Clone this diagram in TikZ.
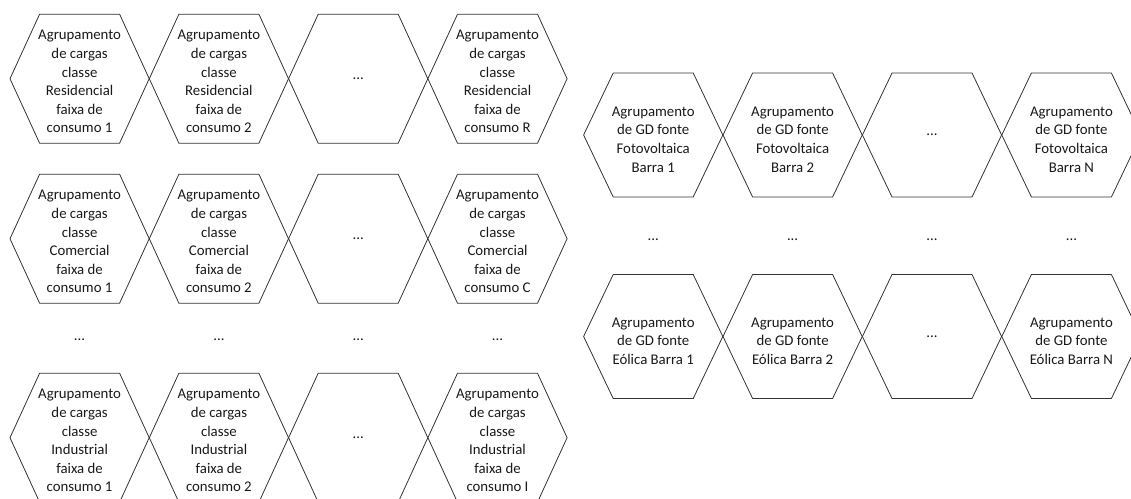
\documentclass[tikz,border=0pt]{standalone}
\usepackage{fontspec}
\setmainfont{Carlito}

% hexagon outline around a named centre point: #1 name, #2 x, #3 y,
% #4 half-height of the hexagon
\newcommand\hexcell[4]{%
  \coordinate (#1) at (#2,#3);
  \draw[hexline] (#1) +(-69.6,0) -- +(-40,-#4) -- +(40,-#4) -- +(69.6,0)
    -- +(40,#4) -- +(-40,#4) -- cycle;}

\begin{document}
\begin{tikzpicture}[x=1pt,y=-1pt,
  hexline/.style={draw=black!80, line width=0.8pt, line join=miter},
  celltext/.style={align=center, inner sep=0pt, text=black!90,
    font=\fontsize{14.8}{18.6}\selectfont},
]
\useasboundingbox (0,0) rectangle (1131,498);
\clip (0,0) rectangle (1131,498);

% ---------- load groups: Residencial, Comercial, Industrial ----------
\foreach \row/\yc/\classe/\last in {res/78.7/Residencial/R, com/238.7/Comercial/C, ind/437.7/Industrial/I}{
  \foreach \i/\xc/\faixa in {1/79.6/1, 2/218.9/2, 4/497.5/\last}{
    \hexcell{\row\i}{\xc}{\yc}{64.5}
    \node[celltext] (t-\row\i) at ([yshift=-3pt]\row\i)
      {Agrupamento\\de cargas\\classe\\\classe\\faixa de\\consumo \faixa};
  }
  \hexcell{\row3}{358.2}{\yc}{64.5}
  \node[celltext] (t-\row3) at (\row3) {...};
}

% gap row between the Comercial and Industrial groups
\foreach \i/\xc in {1/79.6, 2/218.9, 3/358.2, 4/497.5}{
  \node[celltext] (gapL\i) at (\xc,340) {...};
}

% ---------- generation groups: Fotovoltaica and Eolica ----------
\foreach \i/\xc/\barra in {1/653.2/1, 2/792.6/2, 4/1071.4/N}{
  \hexcell{pv\i}{\xc}{135}{62}
  \node[celltext] (t-pv\i) at ([yshift=-4.5pt]pv\i)
    {Agrupamento\\de GD fonte\\Fotovoltaica\\Barra \barra};
  \hexcell{eo\i}{\xc}{336.5}{62}
  \node[celltext] (t-eo\i) at ([yshift=-4.5pt]eo\i)
    {Agrupamento\\de GD fonte\\Eólica Barra \barra};
}
\hexcell{pv3}{932}{135}{62}
\node[celltext] (t-pv3) at (pv3) {...};
\hexcell{eo3}{932}{336.5}{62}
\node[celltext] (t-eo3) at (eo3) {...};

% gap row between the two generation groups
\foreach \i/\xc in {1/653.2, 2/792.6, 3/932, 4/1071.4}{
  \node[celltext] (gapR\i) at (\xc,240) {...};
}
\end{tikzpicture}
\end{document}
